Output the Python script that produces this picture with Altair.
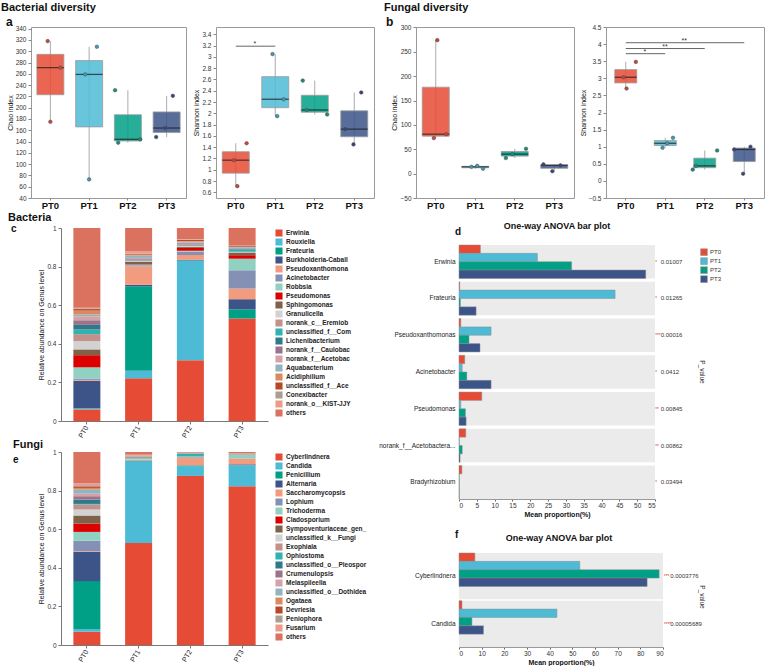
import altair as alt
import pandas as pd

GROUPS = ["PT0", "PT1", "PT2", "PT3"]
GROUP_COLORS = ["#E64B35", "#4DBBD5", "#00A087", "#3C5488"]
POINT_COLORS = ["#C9463A", "#3C9DB6", "#178F78", "#34477A"]

# ---- panel a / b : alpha diversity, 3 replicates per group, jitter = position inside band (0..1)
a_chao_vals = {"PT0": [318, 271, 175], "PT1": [308, 259, 73], "PT2": [231, 138, 144], "PT3": [148, 164, 221]}
a_chao_jit = {"PT0": [0.43, 0.76, 0.50], "PT1": [0.70, 0.40, 0.50], "PT2": [0.17, 0.25, 0.82], "PT3": [0.23, 0.46, 0.66]}
a_shan_vals = {"PT0": [0.71, 1.17, 1.47], "PT1": [3.05, 2.25, 1.95], "PT2": [2.58, 2.06, 1.98], "PT3": [1.45, 1.72, 2.37]}
a_shan_jit = {"PT0": [0.55, 0.46, 0.79], "PT1": [0.44, 0.73, 0.56], "PT2": [0.20, 0.30, 0.83], "PT3": [0.49, 0.27, 0.69]}
b_chao_vals = {"PT0": [274, 73, 81], "PT1": [10, 14, 16], "PT2": [32, 40, 51], "PT3": [5, 17, 19]}
b_chao_jit = {"PT0": [0.55, 0.46, 0.78], "PT1": [0.71, 0.41, 0.56], "PT2": [0.28, 0.45, 0.80], "PT3": [0.46, 0.67, 0.23]}
b_shan_vals = {"PT0": [2.70, 3.03, 3.48], "PT1": [0.97, 1.10, 1.26], "PT2": [0.33, 0.44, 0.89], "PT3": [0.21, 0.92, 1.00]}
b_shan_jit = {"PT0": [0.53, 0.45, 0.77], "PT1": [0.44, 0.56, 0.71], "PT2": [0.20, 0.28, 0.83], "PT3": [0.48, 0.25, 0.67]}

a_chao_ticks = [40, 60, 80, 100, 120, 140, 160, 180, 200, 220, 240, 260, 280, 300, 320, 340]
a_shan_ticks = [0.6, 0.8, 1.0, 1.2, 1.4, 1.6, 1.8, 2.0, 2.2, 2.4, 2.6, 2.8, 3.0, 3.2, 3.4]
b_chao_ticks = [-50, 0, 50, 100, 150, 200, 250, 300]
b_shan_ticks = [-0.5, 0, 0.5, 1, 1.5, 2, 2.5, 3, 3.5, 4, 4.5]

# significance brackets: (from, to, y) and stars: (group, offset in band, y, text)
a_shan_lines = [("PT0", "PT1", 3.19)]
a_shan_stars = [("PT0", 1.0, 3.23, "*")]
b_shan_lines = [("PT0", "PT1", 3.72), ("PT0", "PT2", 3.87), ("PT0", "PT3", 4.04)]
b_shan_stars = [("PT0", 1.0, 3.76, "*"), ("PT1", 0.5, 3.91, "**"), ("PT1", 1.0, 4.08, "**")]

# ---- panel c : bacteria genus composition
bac_genera = ["Erwinia", "Rouxiella", "Frateuria", "Burkholderia-Caball", "Pseudoxanthomona",
              "Acinetobacter", "Robbsia", "Pseudomonas", "Sphingomonas", "Granulicella",
              "norank_c__Eremiob", "unclassified_f__Com", "Lichenibacterium", "norank_f__Caulobac",
              "norank_f__Acetobac", "Aquabacterium", "Acidiphilium", "unclassified_f__Ace",
              "Conexibacter", "norank_o__KIST-JJY", "others"]
bac_PT0 = [0.060, 0.004, 0.002, 0.142, 0.005, 0.007, 0.058, 0.063, 0.030, 0.043, 0.036, 0.024, 0.024, 0.024, 0.020, 0.010, 0.020, 0.008, 0.004, 0.003, 0.413]
bac_PT1 = [0.221, 0.039, 0.438, 0.008, 0.095, 0.006, 0.003, 0.002, 0.012, 0.003, 0.005, 0.002, 0.002, 0.003, 0.006, 0.012, 0.003, 0.004, 0.004, 0.012, 0.120]
bac_PT2 = [0.315, 0.515, 0.002, 0.004, 0.024, 0.018, 0.004, 0.015, 0.006, 0.004, 0.008, 0.003, 0.002, 0.002, 0.004, 0.003, 0.003, 0.006, 0.002, 0.002, 0.058]
bac_PT3 = [0.531, 0.000, 0.048, 0.052, 0.055, 0.095, 0.060, 0.018, 0.012, 0.002, 0.004, 0.012, 0.004, 0.002, 0.002, 0.004, 0.002, 0.006, 0.001, 0.001, 0.089]

# ---- panel e : fungi genus composition
fun_genera = ["Cyberlindnera", "Candida", "Penicillium", "Alternaria", "Saccharomycopsis",
              "Lophium", "Trichoderma", "Cladosporium", "Sympoventuriaceae_gen_", "unclassified_k__Fungi",
              "Exophiala", "Ophiostoma", "unclassified_o__Pleospor", "Crumenulopsis", "Melaspileella",
              "unclassified_o__Dothidea", "Ogataea", "Devriesia", "Peniophora", "Fusarium", "others"]
fun_PT0 = [0.069, 0.014, 0.248, 0.152, 0.003, 0.054, 0.046, 0.043, 0.042, 0.031, 0.026, 0.003, 0.022, 0.018, 0.013, 0.021, 0.009, 0.008, 0.006, 0.010, 0.162]
fun_PT1 = [0.529, 0.424, 0.002, 0.001, 0.003, 0.001, 0.004, 0.001, 0.001, 0.001, 0.001, 0.004, 0.001, 0.001, 0.001, 0.001, 0.004, 0.001, 0.001, 0.004, 0.014]
fun_PT2 = [0.876, 0.050, 0.004, 0.001, 0.037, 0.001, 0.004, 0.001, 0.001, 0.001, 0.001, 0.014, 0.001, 0.001, 0.001, 0.001, 0.001, 0.000, 0.000, 0.001, 0.003]
fun_PT3 = [0.822, 0.109, 0.001, 0.004, 0.030, 0.001, 0.018, 0.001, 0.001, 0.001, 0.001, 0.001, 0.001, 0.000, 0.000, 0.001, 0.000, 0.000, 0.000, 0.001, 0.007]

GENUS_PALETTE = ["#E64B35", "#4DBBD5", "#00A087", "#3C5488", "#F39B7F", "#8491B4", "#91D1C2",
                 "#DC0000", "#7E6148", "#D2D2D2", "#C4908A", "#30B2B0", "#2F7A8A", "#9E7389",
                 "#D6A2AA", "#91B4C0", "#DB8A60", "#B8472A", "#B09C8E", "#EE9A8A", "#DB7260"]

# ---- panel d : one-way ANOVA, bacteria (mean proportion %)
d_genes = ["Erwinia", "Frateuria", "Pseudoxanthomonas", "Acinetobacter", "Pseudomonas",
           "norank_f__Acetobactera...", "Bradyrhizobium"]
d_PT0 = [6.0, 0.2, 0.5, 1.6, 6.4, 1.9, 0.8]
d_PT1 = [22.0, 43.8, 9.0, 0.9, 0.5, 0.1, 0.1]
d_PT2 = [31.6, 0.4, 2.8, 2.2, 1.8, 0.9, 0.1]
d_PT3 = [52.4, 4.8, 5.9, 9.0, 2.0, 0.3, 0.1]
d_stars = ["*", "*", "***", "*", "**", "**", "*"]
d_pvals = ["0.01007", "0.01265", "0.00016", "0.0412", "0.00845", "0.00862", "0.03494"]
d_ticks = [0, 5, 10, 15, 20, 25, 30, 35, 40, 45, 50, 55]

# ---- panel f : one-way ANOVA, fungi
f_genes = ["Cyberlindnera", "Candida"]
f_PT0 = [7.0, 1.3]
f_PT1 = [53.3, 43.2]
f_PT2 = [88.3, 5.7]
f_PT3 = [83.0, 10.8]
f_stars = ["***", "****"]
f_pvals = ["0.0003776", "0.00005689"]
f_ticks = [0, 10, 20, 30, 40, 50, 60, 70, 80, 90]

FONT = "Arial"


def label_layer(text, x, y, size, weight="bold", align="left", angle=0, color="#111"):
    kw = dict(align=align, baseline="middle", fontSize=size, fontWeight=weight, color=color)
    if angle:
        kw["angle"] = angle
    return alt.Chart(pd.DataFrame({"t": [text]})).mark_text(**kw).encode(
        x=alt.value(x), y=alt.value(y), text="t:N")


def box_panel(vals, jit, ydom, yticks, fmt, ytitle, width, height, boxw, lines, stars, texts):
    rows = []
    for gi, g in enumerate(GROUPS):
        for v, j in zip(vals[g], jit[g]):
            rows.append({"grp": g, "val": v, "jit": j, "pc": POINT_COLORS[gi]})
    df = pd.DataFrame(rows)
    xs = alt.Scale(domain=GROUPS, paddingInner=0, paddingOuter=0)
    ys = alt.Scale(domain=ydom, nice=False, zero=False)
    offs = alt.Scale(domain=[0, 1], range=[0, width / 4])
    xa = alt.Axis(title=None, labelAngle=0, labelFontSize=9.5, labelFontWeight="bold", labelColor="#111",
                  domain=False, tickSize=2, tickColor="#888", labelPadding=0)
    ya = alt.Axis(title=ytitle, values=yticks, format=fmt, domain=False, tickSize=3, tickColor="#888",
                  labelFontSize=6.5, labelColor="#333", titleFontSize=7, titleFontWeight="normal",
                  titleColor="#111", titlePadding=2, grid=False, labelPadding=2)
    X = alt.X("grp:N", scale=xs, axis=xa)
    base = alt.Chart(df)
    agg = base.transform_aggregate(q1="q1(val)", q3="q3(val)", med="median(val)",
                                   mn="min(val)", mx="max(val)", groupby=["grp"])
    whisk = agg.mark_rule(color="#ABABAB", strokeWidth=1).encode(
        x=X, y=alt.Y("mn:Q", scale=ys, axis=ya), y2=alt.Y2("mx"))
    box = agg.mark_bar(size=boxw, stroke="#9A9A9A", strokeWidth=0.8, fillOpacity=0.85).encode(
        x=X, y=alt.Y("q1:Q", scale=ys, axis=ya), y2=alt.Y2("q3"),
        color=alt.Color("grp:N", scale=alt.Scale(domain=GROUPS, range=GROUP_COLORS), legend=None))
    med = agg.mark_tick(size=boxw, thickness=1.3, color="#1a1a1a").encode(
        x=X, y=alt.Y("med:Q", scale=ys, axis=ya))
    pts = base.mark_point(filled=True, size=13, stroke="#4a4a4a", strokeWidth=0.5, opacity=1).encode(
        x=X, xOffset=alt.XOffset("jit:Q", scale=offs), y=alt.Y("val:Q", scale=ys, axis=ya),
        fill=alt.Fill("pc:N", scale=None))
    layers = [whisk, box, med, pts]
    if lines:
        ldf = pd.DataFrame(lines, columns=["x1", "x2", "y"])
        layers.append(alt.Chart(ldf).mark_rule(color="#666", strokeWidth=1).encode(
            x=alt.X("x1:N", scale=xs, axis=xa), x2=alt.X2("x2"), y=alt.Y("y:Q", scale=ys, axis=ya)))
        sdf = pd.DataFrame(stars, columns=["xg", "xo", "y", "s"])
        layers.append(alt.Chart(sdf).mark_text(fontSize=7, color="#333", baseline="middle").encode(
            x=alt.X("xg:N", scale=xs, axis=xa), xOffset=alt.XOffset("xo:Q", scale=offs),
            y=alt.Y("y:Q", scale=ys, axis=ya), text="s:N"))
    for t in texts:
        layers.append(label_layer(*t))
    return alt.layer(*layers).properties(width=width, height=height,
                                         view=alt.ViewBackground(stroke="#9A9A9A", strokeWidth=1))


# stacked panel: the leaf starts 30 px left of its y axis (x range shifted, axis offset inward)
SHIFT = 30


def stack_panel(genera, samples, width, height, legend_y, texts):
    rows = []
    for s, vals in zip(GROUPS, samples):
        for i, (g, v) in enumerate(zip(genera, vals)):
            rows.append({"s": s, "g": g, "v": v, "o": i})
    df = pd.DataFrame(rows)
    bars = alt.Chart(df).mark_bar(size=27).encode(
        x=alt.X("s:N", scale=alt.Scale(domain=GROUPS, paddingInner=0, paddingOuter=0,
                                       range=[SHIFT, SHIFT + width]),
                axis=alt.Axis(title=None, labelAngle=300, labelFontSize=7, labelColor="#222",
                              domainColor="#777", tickColor="#777", tickSize=3, labelPadding=2)),
        y=alt.Y("v:Q", stack="zero", scale=alt.Scale(domain=[0, 1], nice=False),
                axis=alt.Axis(title="Relative abundance on Genus level", values=[0, 0.2, 0.4, 0.6, 0.8, 1],
                              format="~g", domainColor="#777", tickColor="#777", tickSize=3, offset=-SHIFT,
                              labelFontSize=6.5, labelColor="#333", titleFontSize=7,
                              titleFontWeight="normal", titleColor="#111", titlePadding=2, grid=False)),
        color=alt.Color("g:N", scale=alt.Scale(domain=genera, range=GENUS_PALETTE),
                        legend=alt.Legend(orient="none", legendX=SHIFT + 214, legendY=legend_y, title=None,
                                          symbolType="square", symbolSize=50, symbolStrokeWidth=0,
                                          labelFontSize=6.5, labelFontWeight="bold", labelColor="#222",
                                          clipHeight=8.92, rowPadding=0, padding=0, labelOffset=3,
                                          labelLimit=200)),
        order=alt.Order("o:Q", sort="ascending"),
    )
    layers = [bars] + [label_layer(*t) for t in texts]
    return alt.layer(*layers).properties(width=SHIFT + width, height=height)


def anova_panel(genes, groups_vals, stars, pvals, width, height, xmax, xticks, pad_inner,
                show_legend, star_x, p_x, texts):
    rows = []
    for g, vals in zip(GROUPS, groups_vals):
        for gene, v in zip(genes, vals):
            rows.append({"gene": gene, "grp": g, "v": v})
    df = pd.DataFrame(rows)
    gys = alt.Scale(domain=genes, paddingInner=pad_inner, paddingOuter=0)
    ya = alt.Axis(title=None, labelFontSize=6.5, labelColor="#222", ticks=False, domain=False,
                  labelPadding=4, labelLimit=150)
    Y = alt.Y("gene:N", scale=gys, axis=ya)
    xa = alt.Axis(title="Mean proportion(%)", values=xticks, grid=False, tickSize=2, tickColor="#666",
                  domainColor="#999", labelFontSize=6.5, labelColor="#333", titleFontSize=7,
                  titleFontWeight="bold", titleColor="#111", titlePadding=2, labelPadding=1)
    bg = alt.Chart(pd.DataFrame({"gene": genes})).mark_rect(color="#EBEBEB").encode(
        y=Y, x=alt.value(0), x2=alt.value(width))
    if show_legend:
        leg = alt.Legend(orient="none", legendX=241, legendY=3, title=None, symbolType="square",
                         symbolSize=45, symbolStrokeWidth=0.5, symbolStrokeColor="#888",
                         labelFontSize=6, labelColor="#333", clipHeight=8.3, rowPadding=0, padding=0,
                         labelOffset=2)
    else:
        leg = None
    bars = alt.Chart(df).mark_bar(stroke="#8C8C8C", strokeWidth=0.5).encode(
        y=Y, yOffset=alt.YOffset("grp:N", scale=alt.Scale(domain=GROUPS, paddingInner=0, paddingOuter=0)),
        x=alt.X("v:Q", scale=alt.Scale(domain=[0, xmax], nice=False, zero=True), axis=xa),
        color=alt.Color("grp:N", scale=alt.Scale(domain=GROUPS, range=GROUP_COLORS), legend=leg))
    pdf = pd.DataFrame({"gene": genes, "star": stars, "p": pvals})
    st = alt.Chart(pdf).mark_text(align="left", baseline="middle", fontSize=4.5, color="#E8302A", dy=1).encode(
        y=Y, x=alt.value(width + star_x), text="star:N")
    pv = alt.Chart(pdf).mark_text(align="left", baseline="middle", fontSize=6, color="#333").encode(
        y=Y, x=alt.value(width + p_x), text="p:N")
    layers = [bg, bars, st, pv] + [label_layer(*t) for t in texts]
    return alt.layer(*layers).properties(width=width, height=height)


def spacer(w, h):
    return alt.Chart(pd.DataFrame({"z": [0]})).mark_point(opacity=0).encode(
        x=alt.value(0), y=alt.value(0)).properties(width=w, height=h)


H_TOP = 171
aC = box_panel(a_chao_vals, a_chao_jit, [40, 343], a_chao_ticks, "d", "Chao index", 155, H_TOP, 27, None, None,
               [("Bacterial diversity", -30, -19, 11), ("a", -25, -5, 12)])
aS = box_panel(a_shan_vals, a_shan_jit, [0.5, 3.53], a_shan_ticks, ".1~f", "Shannon index", 158, H_TOP, 27,
               a_shan_lines, a_shan_stars, [])
bC = box_panel(b_chao_vals, b_chao_jit, [-50, 301], b_chao_ticks, "d", "Chao index", 158, H_TOP, 27, None, None,
               [("Fungal diversity", -32, -19, 11), ("b", -30, -5, 12)])
bS = box_panel(b_shan_vals, b_shan_jit, [-0.5, 4.5], b_shan_ticks, ".1~f", "Shannon index", 158, H_TOP, 22,
               b_shan_lines, b_shan_stars, [])

c = stack_panel(bac_genera, [bac_PT0, bac_PT1, bac_PT2, bac_PT3], 207, 193, 0.5,
                [("Bacteria", -23, -10, 11), ("c", -20, 1, 10)])
e = stack_panel(fun_genera, [fun_PT0, fun_PT1, fun_PT2, fun_PT3], 207, 193, 0.5,
                [("Fungi", -18, -7, 11), ("e", -18, 8, 10)])

d = anova_panel(d_genes, [d_PT0, d_PT1, d_PT2, d_PT3], d_stars, d_pvals, 196, 254, 55, d_ticks, 0.09, True,
                0.3, 5.7,
                [("One-way ANOVA bar plot", 98, -19, 9, "bold", "center"), ("d", -4, -13, 10),
                 ("P_value", 243, 127, 6.5, "normal", "center", 90, "#333")])
f = anova_panel(f_genes, [f_PT0, f_PT1, f_PT2, f_PT3], f_stars, f_pvals, 204, 94, 90, f_ticks, 0.03, False,
                1.0, 7.2,
                [("One-way ANOVA bar plot", 100, -15, 9, "bold", "center"), ("f", -4, -18, 10),
                 ("P_value", 243, 44, 6.5, "normal", "center", 90, "#333")])

# leaf-only concats use flush bounds (spacer leaves set the gaps)
row1 = alt.hconcat(aC, spacer(30, 1), aS, spacer(42, 1), bC, spacer(32, 1), bS, spacing=0, bounds="flush")
col1 = alt.vconcat(c, spacer(1, 31), e, spacing=0, bounds="flush").resolve_scale(color="independent")
col2 = alt.vconcat(spacer(1, 17), d, spacer(1, 54), f, spacing=0, bounds="flush").resolve_scale(color="independent")
row2 = alt.hconcat(col1, col2, spacing=10).resolve_scale(color="independent")

chart = alt.vconcat(row1, row2, spacing=1).resolve_scale(color="independent").properties(
    padding={"left": 0, "top": 1, "right": 0, "bottom": 0}
).configure(font=FONT).configure_view(stroke="transparent")

chart.save("out.html", embed_options={"renderer": "svg", "actions": False})
